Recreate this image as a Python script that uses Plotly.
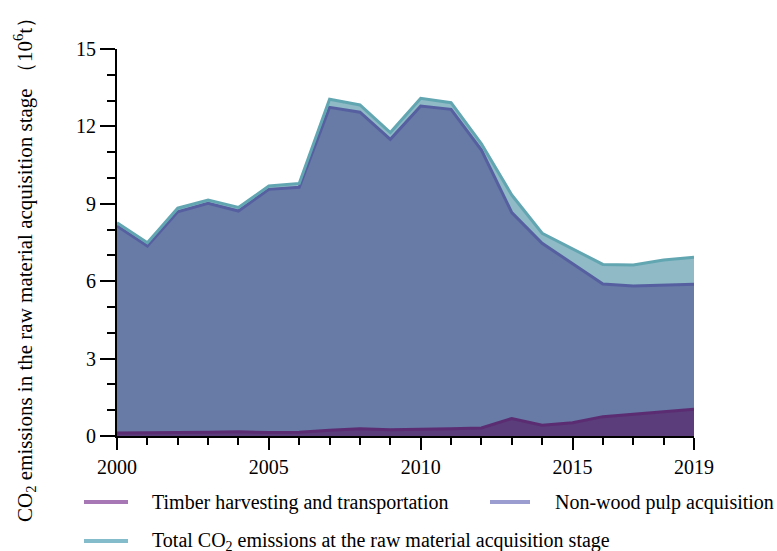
import plotly.graph_objects as go

years = list(range(2000, 2020))
timber = [0.12, 0.12, 0.14, 0.15, 0.16, 0.14, 0.15, 0.22, 0.28, 0.24,
          0.25, 0.28, 0.31, 0.68, 0.42, 0.51, 0.75, 0.85, 0.94, 1.04]
nonwood = [8.14, 7.36, 8.69, 9.02, 8.72, 9.56, 9.64, 12.74, 12.55, 11.50,
           12.79, 12.66, 11.08, 8.66, 7.47, 6.69, 5.89, 5.81, 5.85, 5.88]
total = [8.27, 7.49, 8.83, 9.15, 8.86, 9.69, 9.79, 13.05, 12.83, 11.76,
         13.09, 12.92, 11.32, 9.34, 7.86, 7.27, 6.65, 6.63, 6.82, 6.93]
names = ["Timber harvesting and transportation", "Non-wood pulp acquisition",
         "Total CO<sub>2</sub> emissions at the raw material acquisition stage"]
xticks = [2000, 2005, 2010, 2015, 2019]
yticks = [0, 3, 6, 9, 12, 15]

FONT = "Liberation Serif"
fig = go.Figure()
fig.add_trace(go.Scatter(x=years, y=timber, mode="lines", fill="tozeroy",
                         fillcolor="#5a3d7a", line=dict(color="#5b2c72", width=3),
                         showlegend=False))
fig.add_trace(go.Scatter(x=years, y=nonwood, mode="lines", fill="tonexty",
                         fillcolor="#677ba6", line=dict(color="#565fa0", width=3),
                         showlegend=False))
fig.add_trace(go.Scatter(x=years, y=total, mode="lines", fill="tonexty",
                         fillcolor="#8fbac6", line=dict(color="#62a6b2", width=3),
                         showlegend=False))

# manual legend (paper coords: plot spans x 117..694 px, y 49..436 px)
W, H = 577.0, 387.0
def px(x):
    return (x - 117) / W
def py(y):
    return (436 - y) / H

leg_colors = ["#a677b4", "#9b9dd0", "#85bccb"]
leg_pos = [(84, 128, 150, 502), (490, 530, 553, 502), (84, 128, 150, 541)]
shapes = []
annotations = []
for n, c, (x0, x1, tx, ty) in zip(names, leg_colors, leg_pos):
    shapes.append(dict(type="line", xref="paper", yref="paper",
                       x0=px(x0), x1=px(x1), y0=py(ty), y1=py(ty),
                       line=dict(color=c, width=4)))
    annotations.append(dict(text=n, xref="paper", yref="paper", x=px(tx), y=py(ty),
                            xanchor="left", yanchor="middle", showarrow=False,
                            font=dict(family=FONT, size=20, color="black")))

annotations.append(dict(text="CO<sub>2</sub> emissions in the raw material acquisition stage （10<sup>6</sup>t）",
                        xref="paper", yref="paper", x=px(24), y=py(265),
                        xanchor="center", yanchor="middle", textangle=-90,
                        showarrow=False, font=dict(family=FONT, size=21, color="black")))

fig.update_layout(
    width=777, height=551,
    margin=dict(l=117, r=83, t=49, b=115, autoexpand=False),
    paper_bgcolor="white", plot_bgcolor="white",
    font=dict(family=FONT, size=20, color="black"),
    showlegend=False,
    xaxis=dict(range=[2000, 2019], tickvals=xticks, ticks="outside", ticklen=12,
               tickwidth=2, tickcolor="black", showline=True, linewidth=2, linecolor="black",
               showgrid=False, zeroline=False,
               minor=dict(dtick=1, tick0=2000, ticks="outside", ticklen=7,
                          tickwidth=2, tickcolor="black", showgrid=False),
               tickfont=dict(family=FONT, size=20)),
    yaxis=dict(range=[0, 15], tickvals=yticks, ticks="outside", ticklen=15,
               tickwidth=2, tickcolor="black", showline=True, linewidth=2, linecolor="black",
               showgrid=False, zeroline=False,
               minor=dict(dtick=1, tick0=0, ticks="outside", ticklen=8,
                          tickwidth=2, tickcolor="black", showgrid=False),
               tickfont=dict(family=FONT, size=20)),
    shapes=shapes,
    annotations=annotations,
)
# remove the default page margin so the 777x551 figure fills the window exactly
fig.write_html("out.html", config={"displayModeBar": False},
               post_script="document.body.style.margin='0px';document.body.style.overflow='hidden';")
